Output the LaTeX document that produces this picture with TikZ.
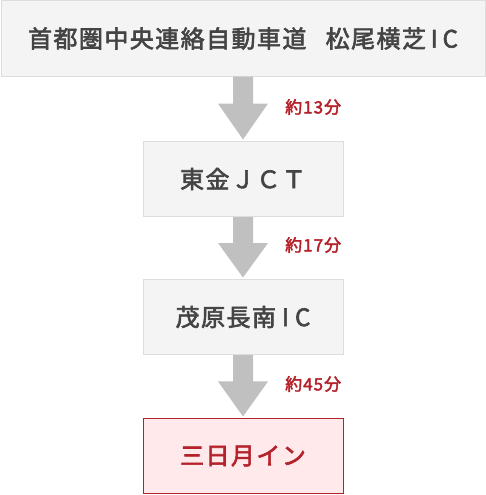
\documentclass[tikz,border=0pt]{standalone}
\usepackage{fontspec}
\setmainfont{Noto Sans CJK JP}
\newfontfamily\medfont{Noto Sans CJK JP}[FakeBold=2.5,LetterSpace=6]
\newfontfamily\medlabel{Noto Sans CJK JP}[FakeBold=2.5,LetterSpace=6]
\usetikzlibrary{calc}
\definecolor{boxfill}{HTML}{F4F4F4}
\definecolor{boxline}{HTML}{DDDDDD}
\definecolor{txt}{HTML}{444444}
\definecolor{arrowgray}{HTML}{C0C0C0}
\definecolor{redtxt}{HTML}{B5212A}
\definecolor{redfill}{HTML}{FFE9EA}
\tikzset{
  stepbox/.style={draw=boxline, fill=boxfill, line width=1pt, text=txt,
    minimum height=75pt, inner sep=0pt, font=\medfont\fontsize{24pt}{24pt}\selectfont},
  goalbox/.style={stepbox, draw=redtxt, fill=redfill, text=redtxt},
  timelabel/.style={text=redtxt, anchor=west, inner sep=0pt,
    font=\medlabel\fontsize{17pt}{17pt}\selectfont},
  flowarrow/.style={fill=arrowgray}
}
\newcommand{\flowarr}[2]{%
  \fill[flowarrow] ($(#1.south)+(-10,0)$) -- ($(#1.south)+(10,0)$) --
    ($(#1.south)!0.42!(#2.north)+(10,0)$) -- ($(#1.south)!0.42!(#2.north)+(25,0)$) --
    ($(#2.north)+(0,-1.5)$) -- ($(#1.south)!0.42!(#2.north)+(-25,0)$) --
    ($(#1.south)!0.42!(#2.north)+(-10,0)$) -- cycle;}
\begin{document}
\begin{tikzpicture}[x=1pt,y=-1pt]
\useasboundingbox (0,0) rectangle (486,495);
\node[stepbox, minimum width=484pt] (a) at (243,38.5) {首都圏中央連絡自動車道\hspace{0.8em}松尾横芝\hspace{0.2em}I\hspace{0.2em}C};
\node[stepbox, minimum width=200pt] (b) at (243,179) {東金ＪＣＴ};
\node[stepbox, minimum width=200pt] (c) at (243,317) {茂原長南\hspace{0.25em}I\hspace{0.25em}C};
\node[goalbox, minimum width=200pt] (d) at (243,456) {三日月イン};
\flowarr{a}{b}
\flowarr{b}{c}
\flowarr{c}{d}
\node[timelabel] (t1) at (285,107) {約13分};
\node[timelabel] (t2) at (285,245) {約17分};
\node[timelabel] (t3) at (285,384) {約45分};
\end{tikzpicture}
\end{document}
